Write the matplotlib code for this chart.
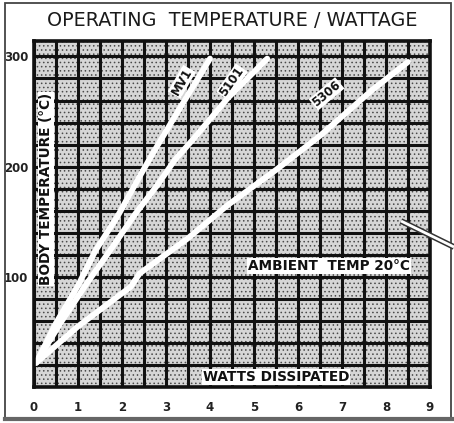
import matplotlib
matplotlib.use("Agg")
import matplotlib.pyplot as plt
import numpy as np
from matplotlib.lines import Line2D
from matplotlib.patches import Rectangle

# body temperature (deg C) against watts dissipated, ambient 20 deg C
mv1_w = [0.05, 0.5, 1.0, 1.4, 1.9, 2.4, 2.7, 3.3, 4.0]
mv1_t = [22, 58, 92, 124, 155, 191, 212, 252, 298]
r5101_w = [0.05, 0.6, 1.2, 1.8, 2.3, 2.8, 3.2, 3.6, 4.4, 5.3]
r5101_t = [22, 58, 94, 128, 157, 183, 206, 224, 262, 298]
r5306_w = [0.05, 1.0, 2.2, 2.4, 3.5, 4.4, 5.5, 6.5, 7.7, 8.5]
r5306_t = [22, 55, 91, 103, 135, 165, 197, 228, 270, 295]

x_ticks = list(range(0, 10))
y_ticks = [100, 200, 300]

W, H = 454, 423
plt.rcParams.update({"font.family": "DejaVu Sans", "hatch.linewidth": 0.6})
fig = plt.figure(figsize=(W / 100, H / 100), dpi=100)
fig.patch.set_facecolor("white")

# plot area in pixels: x 34..430, y 41..387
ax = fig.add_axes([34 / W, 1 - 387 / H, 396 / W, 346 / H])
ax.set_xlim(0, 9)
ax.set_ylim(0, 314)

# halftone dot fill behind the grid
ax.add_patch(Rectangle((0, 0), 1, 1, transform=ax.transAxes, facecolor="#d6d6d6",
                       edgecolor="#4a4a4a", lw=0, hatch="....", zorder=0))

ax.set_xticks(x_ticks)
ax.set_xticks(np.arange(0, 9.01, 0.5), minor=True)
ax.set_yticks(y_ticks)
ax.set_yticks(np.arange(0, 314, 20), minor=True)
ax.set_axisbelow(True)
ax.grid(which="both", color="#111111", lw=2.2)
ax.tick_params(which="both", length=0)
ax.tick_params(axis="x", pad=10, labelsize=8.5)
ax.tick_params(axis="y", pad=4, labelsize=8.5)
for lab in ax.get_xticklabels() + ax.get_yticklabels():
    lab.set_fontweight("bold")
    lab.set_color("#222222")
for sp in ax.spines.values():
    sp.set_linewidth(2.6)
    sp.set_color("#111111")
    sp.set_zorder(5)

# the three resistor curves, drawn white over the grid
for w, t in [(mv1_w, mv1_t), (r5101_w, r5101_t), (r5306_w, r5306_t)]:
    ax.plot(w, t, color="white", lw=4.2, solid_capstyle="round", zorder=3)

lbl = dict(fontsize=8.5, fontweight="bold", color="#111111", ha="center", va="center",
           zorder=4, bbox=dict(facecolor="white", edgecolor="none", pad=0.6))
ax.text(3.36, 277, "MV1", rotation=60, **lbl)
ax.text(4.5, 277, "5101", rotation=55, **lbl)
ax.text(6.65, 266, "5306", rotation=40, **lbl)

big = dict(fontsize=9.8, fontweight="bold", color="#111111", ha="center", va="center",
           zorder=4, bbox=dict(facecolor="white", edgecolor="none", pad=0.8))
ax.text(0.27, 180, "BODY TEMPERATURE (°C)", rotation=90, **big)
ax.text(6.7, 110, "AMBIENT  TEMP 20°C", **big)
ax.text(5.5, 9, "WATTS DISSIPATED", **big)

fig.text(232 / W, 1 - 20 / H, "OPERATING  TEMPERATURE / WATTAGE", fontsize=13.8,
         color="#1a1a1a", ha="center", va="center")

# pointer leaving the chart on the right
px = [401 / W, 1.0]
py = [1 - 221 / H, 1 - 247 / H]
fig.add_artist(Line2D(px, py, color="#333333", lw=4.2, solid_capstyle="butt"))
fig.add_artist(Line2D(px, py, color="white", lw=2.0, solid_capstyle="butt"))

# page border
fig.add_artist(Rectangle((5 / W, 3 / H), 446 / W, 417 / H, transform=fig.transFigure,
                         fill=False, edgecolor="#444444", lw=1.3))
fig.add_artist(Line2D([5 / W, 1.0], [4 / H, 4 / H], color="#666666", lw=3))

fig.savefig("out.png", dpi=100)
